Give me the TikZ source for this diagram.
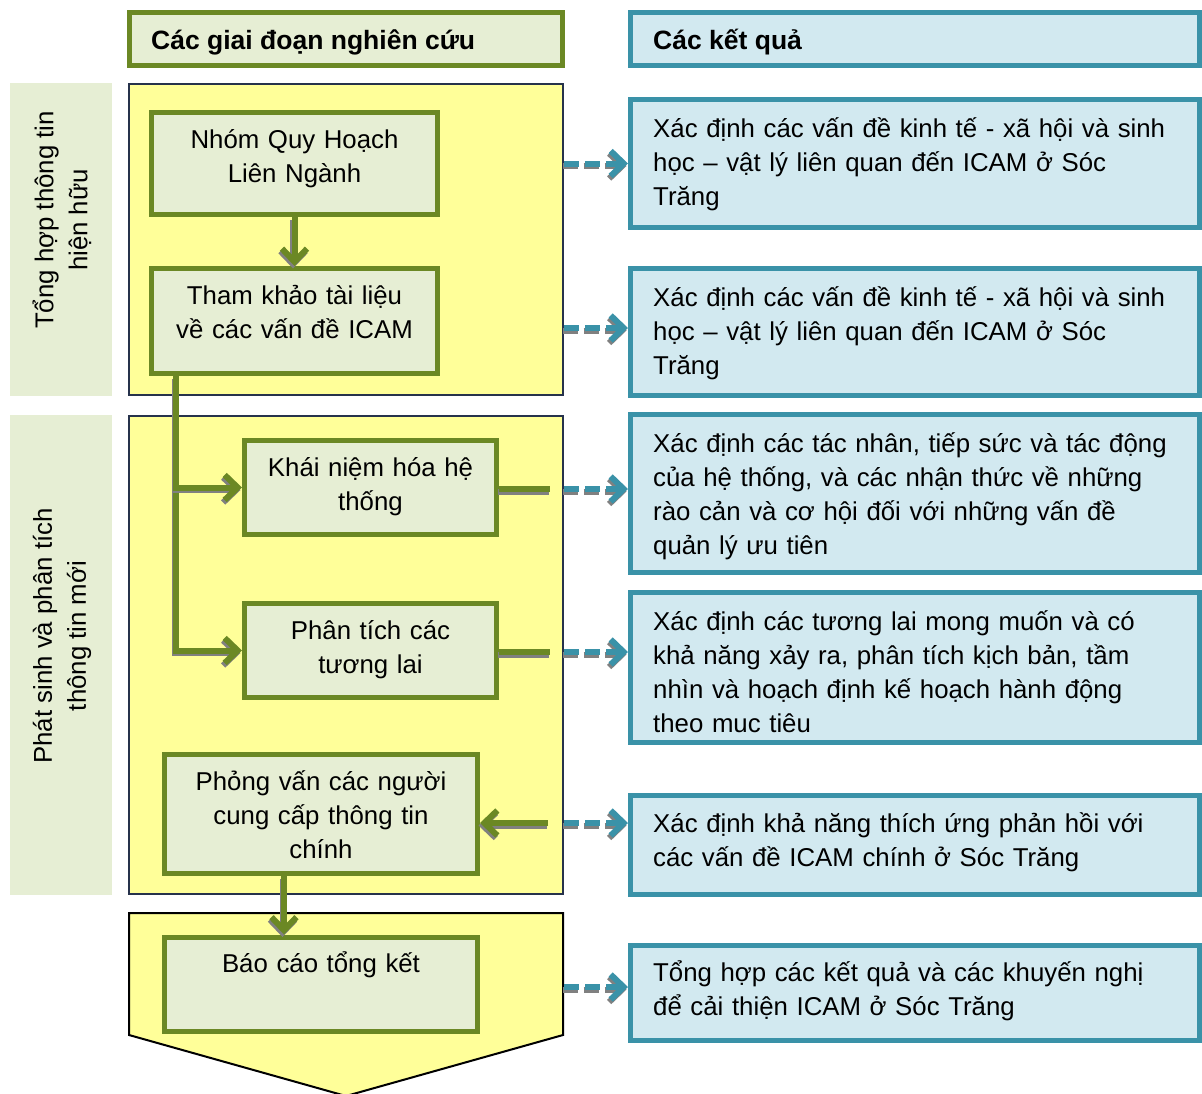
\documentclass[tikz,border=0pt]{standalone}
\usepackage{fontspec}
\setmainfont{Liberation Sans}
\usetikzlibrary{arrows.meta,calc}
\setlength{\parindent}{0pt}

\definecolor{olivegreen}{RGB}{107,136,36}
\definecolor{palegreen}{RGB}{230,238,212}
\definecolor{paleyellow}{RGB}{255,255,153}
\definecolor{panelline}{RGB}{38,50,75}
\definecolor{tealline}{RGB}{58,146,168}
\definecolor{paleblue}{RGB}{210,233,240}
\definecolor{shadowgray}{RGB}{128,128,128}

\newcommand{\bodyfont}{\fontsize{25.8}{34}\selectfont}
\newcommand{\headfont}{\fontsize{26.5}{34}\selectfont\bfseries}

\tikzset{
  basefont/.style={font=\bodyfont},
  boldfont/.style={font=\headfont},
  gbox/.style={draw=olivegreen, line width=5pt, fill=palegreen, inner sep=0pt},
  rbox/.style={draw=tealline, line width=5pt, fill=paleblue, inner sep=0pt},
  hboxL/.style={draw=olivegreen, line width=5pt, fill=palegreen, inner sep=0pt},
  panel/.style={draw=panelline, line width=2pt, fill=paleyellow, inner sep=0pt},
  strip/.style={fill=palegreen, inner sep=0pt},
  ctext/.style={basefont, inner sep=0pt, anchor=north, align=center, text width=#1,
    execute at begin node={\rule{0pt}{26pt}}},
  ltext/.style={basefont, inner sep=0pt, anchor=north west, align=left, text width=600pt,
    execute at begin node={\rule{0pt}{26pt}}},
  tip/.style={-{Straight Barb[length=13pt,width=25pt]}},
  gline/.style={draw=olivegreen, line width=6pt},
  garrow/.style={gline, tip},
  tarrow/.style={draw=tealline, line width=6pt, dash pattern=on 15pt off 6pt, tip},
  shade/.style={draw=shadowgray, transform canvas={shift={(-1.5pt,-2.5pt)}}},
}

% a connector drawn over its own grey drop shadow
\newcommand{\shadowdraw}[2]{%
  \draw[#1, shade] #2;
  \draw[#1] #2;
}

\begin{document}
\begin{tikzpicture}[x=1pt,y=-1pt]
\useasboundingbox (0,0) rectangle (1202,1093);

% column headers
\node[hboxL, minimum width=433pt, minimum height=53pt] (hdrL) at (346,39) {};
\node[rbox, minimum width=569pt, minimum height=53pt] (hdrR) at (915,39) {};
\node[boldfont, anchor=base west, inner sep=0pt] (hdrLt) at (151,49) {Các giai đoạn nghiên cứu};
\node[boldfont, anchor=base west, inner sep=0pt] (hdrRt) at (653,49) {Các kết quả};

% phase strips on the left
\node[strip, minimum width=102pt, minimum height=313pt] (s1) at (61,239.5) {};
\node[strip, minimum width=102pt, minimum height=480pt] (s2) at (61,655) {};
\node[basefont, rotate=90, align=center, inner sep=0pt] (s1t) at (62,220) {Tổng hợp thông tin\\hiện hữu};
\node[basefont, rotate=90, align=center, inner sep=0pt] (s2t) at (62,636) {Phát sinh và phân tích\\thông tin mới};

% yellow phase panels
\node[panel, minimum width=434pt, minimum height=311pt] (p1) at (346,239.5) {};
\node[panel, minimum width=434pt, minimum height=478pt] (p2) at (346,655) {};
\draw[draw=black, line width=2pt, fill=paleyellow]
  (129,913) -- (563,913) -- (563,1035) -- (346,1096) -- (129,1035) -- cycle;

% research steps
\node[gbox, minimum width=286pt, minimum height=102pt] (nhom) at (294.5,163.5) {};
\node[gbox, minimum width=286pt, minimum height=105pt] (tham) at (294.5,321) {};
\node[gbox, minimum width=252pt, minimum height=94pt] (khai) at (370.5,487.5) {};
\node[gbox, minimum width=252pt, minimum height=94pt] (phan) at (370.5,650.5) {};
\node[gbox, minimum width=313pt, minimum height=119pt] (phong) at (321,814) {};
\node[gbox, minimum width=313pt, minimum height=94pt] (bao) at (321,984) {};

\node[ctext=300pt] (nhomt) at ($(nhom.north)+(0,12)$) {Nhóm Quy Hoạch\\Liên Ngành};
\node[ctext=300pt] (thamt) at ($(tham.north)+(0,12)$) {Tham khảo tài liệu\\về các vấn đề ICAM};
\node[ctext=300pt] (khait) at ($(khai.north)+(0,12)$) {Khái niệm hóa hệ\\thống};
\node[ctext=300pt] (phant) at ($(phan.north)+(0,12)$) {Phân tích các\\tương lai};
\node[ctext=320pt] (phongt) at ($(phong.north)+(0,12)$) {Phỏng vấn các người\\cung cấp thông tin\\chính};
\node[ctext=320pt] (baot) at ($(bao.north)+(0,12)$) {Báo cáo tổng kết};

% results
\node[rbox, minimum width=569pt, minimum height=128pt] (r1) at (915,163.5) {};
\node[rbox, minimum width=569pt, minimum height=127pt] (r2) at (915,332) {};
\node[rbox, minimum width=569pt, minimum height=158pt] (r3) at (915,493.5) {};
\node[rbox, minimum width=569pt, minimum height=150pt] (r4) at (915,667.5) {};
\node[rbox, minimum width=569pt, minimum height=99pt] (r5) at (915,845) {};
\node[rbox, minimum width=569pt, minimum height=95pt] (r6) at (915,992.5) {};

\node[ltext] (r1t) at ($(r1.north west)+(25,14)$) {Xác định các vấn đề kinh tế - xã hội và sinh\\học – vật lý liên quan đến ICAM ở Sóc\\Trăng};
\node[ltext] (r2t) at ($(r2.north west)+(25,14)$) {Xác định các vấn đề kinh tế - xã hội và sinh\\học – vật lý liên quan đến ICAM ở Sóc\\Trăng};
\node[ltext] (r3t) at ($(r3.north west)+(25,14)$) {Xác định các tác nhân, tiếp sức và tác động\\của hệ thống, và các nhận thức về những\\rào cản và cơ hội đối với những vấn đề\\quản lý ưu tiên};
\begin{scope}
  % the last line runs past the lower edge of this box and is cut off there
  \clip ($(r4.north west)+(5,5)$) rectangle ($(r4.south east)+(-5,-13)$);
  \node[ltext] (r4t) at ($(r4.north west)+(25,14)$) {Xác định các tương lai mong muốn và có\\khả năng xảy ra, phân tích kịch bản, tầm\\nhìn và hoạch định kế hoạch hành động\\theo mục tiêu};
\end{scope}
\node[ltext] (r5t) at ($(r5.north west)+(25,13)$) {Xác định khả năng thích ứng phản hồi với\\các vấn đề ICAM chính ở Sóc Trăng};
\node[ltext] (r6t) at ($(r6.north west)+(25,13)$) {Tổng hợp các kết quả và các khuyến nghị\\để cải thiện ICAM ở Sóc Trăng};

% flow between steps
\shadowdraw{garrow}{(nhom.south) -- (tham.north)}
\shadowdraw{garrow}{([xshift=27pt]tham.south west) |- (phan.west)}
\shadowdraw{garrow}{([xshift=27pt]tham.south west) |- (khai.west)}
\shadowdraw{garrow}{([xshift=-37pt]phong.south) -- ([xshift=-37pt]bao.north)}

% links from steps to results
\coordinate (e1) at (nhom.east -| p1.east);
\coordinate (e2) at ($(tham.east -| p1.east)+(0,7)$);
\coordinate (e3) at ($(khai.east -| p2.east)+(0,1.5)$);
\coordinate (e4) at ($(phan.east -| p2.east)+(0,1.5)$);
\coordinate (e5) at ($(phong.east -| p2.east)+(0,9)$);
\coordinate (e6) at ($(bao.east -| p2.east)+(0,3)$);
\coordinate (k3) at ($(e3)+(-14,0)$);
\coordinate (k4) at ($(e4)+(-14,0)$);
\coordinate (k5) at ($(e5)+(-16,0)$);

\shadowdraw{gline}{(k3 -| khai.east) -- (k3)}
\shadowdraw{gline}{(k4 -| phan.east) -- (k4)}
\shadowdraw{garrow}{(k5) -- (k5 -| phong.east)}

\shadowdraw{tarrow}{(e1) -- (e1 -| r1.west)}
\shadowdraw{tarrow}{(e2) -- (e2 -| r2.west)}
\shadowdraw{tarrow}{(e3) -- (e3 -| r3.west)}
\shadowdraw{tarrow}{(e4) -- (e4 -| r4.west)}
\shadowdraw{tarrow}{(e5) -- (e5 -| r5.west)}
\shadowdraw{tarrow}{(e6) -- (e6 -| r6.west)}
\end{tikzpicture}
\end{document}
